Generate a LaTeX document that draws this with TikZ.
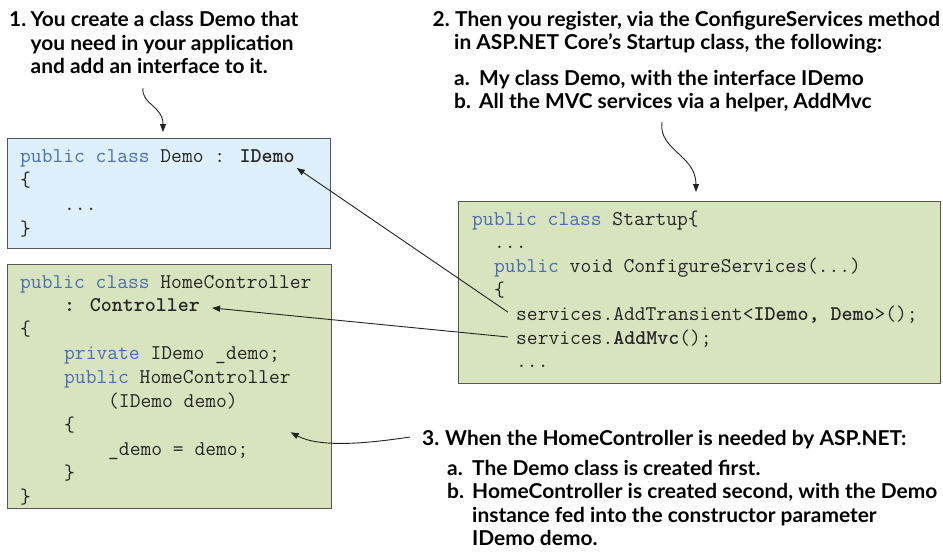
\documentclass[tikz,border=0pt]{standalone}
\usepackage{fontspec}
\setmainfont{Lato}
\newfontfamily\annfont{Lato Bold}[FakeStretch=1.02]
\usetikzlibrary{arrows.meta,calc}
\definecolor{kwblue}{HTML}{4A6DB4}
\definecolor{codetext}{HTML}{262626}
\definecolor{demofill}{HTML}{DDF0FB}
\definecolor{greenfill}{HTML}{D7E4BE}
\definecolor{boxline}{HTML}{555555}
\definecolor{arrowc}{HTML}{222222}
\newcommand{\kwd}[1]{\textcolor{kwblue}{#1}}
\tikzset{
  ann/.style={anchor=base west, inner sep=0pt, font=\annfont\fontsize{20.5}{22}\selectfont, text=black},
  code/.style={anchor=base west, inner sep=0pt, font=\ttfamily\fontsize{20.95}{24}\selectfont, text=codetext},
  codebox/.style={draw=boxline, line width=1.2pt, anchor=north west, inner sep=0pt},
  arr/.style={-{Triangle[length=8pt,width=6pt]}, line width=0.9pt, draw=arrowc},
}
\begin{document}
\begin{tikzpicture}[x=1pt,y=-1pt]
\useasboundingbox (0,0) rectangle (943,554);
% boxes
\node[codebox, fill=demofill, minimum width=323pt, minimum height=110pt] (demobox) at (7,138) {};
\node[codebox, fill=greenfill, minimum width=324pt, minimum height=244pt] (homebox) at (7,264) {};
\node[codebox, fill=greenfill, minimum width=482pt, minimum height=182pt] (startbox) at (458,201) {};
% Demo code
\node[code] (d1) at (20,162) {\kwd{public class} Demo : \textbf{IDemo}};
\node[code] (d2) at (20,186.3) {\{};
\node[code] (d3) at (64,210.6) {...};
\node[code] (d4) at (20,235) {\}};
% HomeController code
\node[code] (h1) at (20,288) {\kwd{public class} HomeController};
\node[code] (h2) at (64,311.9) {\textbf{: Controller}};
\node[code] (h3) at (20,335.8) {\{};
\node[code] (h4) at (64,359.7) {\kwd{private} IDemo \_demo;};
\node[code] (h5) at (64,383.6) {\kwd{public} HomeController};
\node[code] (h6) at (108,407.5) {(IDemo demo)};
\node[code] (h7) at (64,431.4) {\{};
\node[code] (h8) at (108,455.3) {\_demo = demo;};
\node[code] (h9) at (64,479.2) {\}};
\node[code] (h10) at (20,503.1) {\}};
% Startup code
\node[code] (s1) at (472,225) {\kwd{public class} Startup\{};
\node[code] (s2) at (494,248.8) {...};
\node[code] (s3) at (494,272.6) {\kwd{public} void ConfigureServices(...)};
\node[code] (s4) at (494,296.4) {\{};
\node[code] (s5) at (516,320.2) {services.AddTransient<\textbf{IDemo, Demo}>();};
\node[code] (s6) at (516,344) {services.\textbf{AddMvc}();};
\node[code] (s7) at (516,367.8) {...};
% annotation 1
\node[ann] (n1) at (9,27) {1.};
\node[ann] (a1a) at (30.5,27) {You create a class Demo that};
\node[ann] (a1b) at (30.5,50) {you need in your application};
\node[ann] (a1c) at (30.5,73) {and add an interface to it.};
% annotation 2
\node[ann] (n2) at (432.5,27) {2.};
\node[ann] (a2a) at (455,27) {Then you register, via the ConfigureServices method};
\node[ann] (a2b) at (454,49) {in ASP.NET Core’s Startup class, the following:};
\node[ann] (l2a) at (454,85.5) {a.};
\node[ann] (a2c) at (479,85.5) {My class Demo, with the interface IDemo};
\node[ann] (l2b) at (454,108.5) {b.};
\node[ann] (a2d) at (479,108.5) {All the MVC services via a helper, AddMvc};
% annotation 3
\node[ann] (n3) at (422,445) {3.};
\node[ann] (a3a) at (445,445) {When the HomeController is needed by ASP.NET:};
\node[ann] (l3a) at (447,475) {a.};
\node[ann] (a3b) at (472,475) {The Demo class is created first.};
\node[ann] (l3b) at (447,498.5) {b.};
\node[ann] (a3c) at (472,498.5) {HomeController is created second, with the Demo};
\node[ann] (a3d) at (472,522) {instance fed into the constructor parameter};
\node[ann] (a3e) at (472,545.5) {IDemo demo.};
% connectors
\coordinate (c1s) at ($(a1c.base west)+(112.5,15)$);
\coordinate (c1e) at ($(demobox.north west)+(156,-6)$);
\draw[arr] (c1s) .. controls +(-2,16) and +(0,-26) .. (c1e);
\coordinate (c2s) at ($(a2d.base west)+(183,13.5)$);
\coordinate (c2e) at ($(startbox.north west)+(238,-9)$);
\draw[arr] (c2s) .. controls +(-4,28) and +(0,-37) .. (c2e);
\draw[arr] ($(s5.base west)+(-8,-8)$) -- ($(d1.base east)+(2,6)$);
\draw[arr] ($(s6.base west)+(-8,-7)$) -- ($(h2.base east)+(12,-4)$);
\draw[arr] ($(n3.base west)+(-12,-8)$) .. controls +(-40,6) and +(30,16) .. ($(h8.base east)+(42,-23)$);
\end{tikzpicture}
\end{document}
